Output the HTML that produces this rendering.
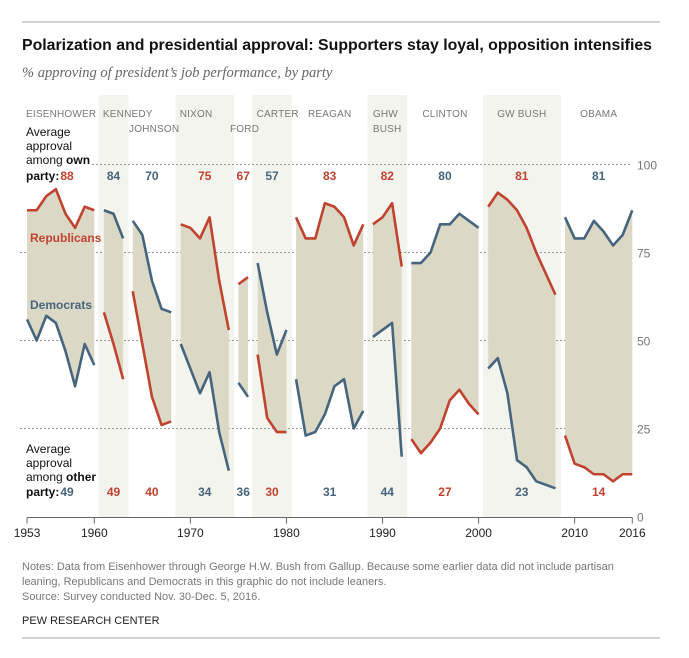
<!DOCTYPE html>
<html><head><meta charset="utf-8"><style>
body{margin:0;background:#fff;}
svg{display:block;font-family:"Liberation Sans",sans-serif;}
</style></head><body>
<svg id="chart" width="689" height="658" viewBox="0 0 689 658">
<line x1="22" y1="22" x2="660" y2="22" stroke="#aaa" stroke-width="1"/>
<text x="22" y="50" font-size="16" font-weight="bold" fill="#111" textLength="630" lengthAdjust="spacingAndGlyphs">Polarization and presidential approval: Supporters stay loyal, opposition intensifies</text>
<text x="22" y="77" font-size="14.5" font-style="italic" fill="#666" font-family="Liberation Serif, serif">% approving of president’s job performance, by party</text>
<g id="bands"></g>
<g id="grid"></g>
<g id="fills"></g>
<g id="lines"></g>
<g id="labels"></g>
<g id="axis"></g>
<text font-size="12" fill="#111"><tspan x="26" y="136">Average</tspan><tspan x="26" y="150">approval</tspan><tspan x="26" y="164">among <tspan font-weight="bold">own</tspan></tspan><tspan x="26" y="180" font-weight="bold">party:</tspan></text>
<text font-size="12" fill="#111"><tspan x="26" y="453">Average</tspan><tspan x="26" y="467">approval</tspan><tspan x="26" y="481">among <tspan font-weight="bold">other</tspan></tspan><tspan x="26" y="496" font-weight="bold">party:</tspan></text>
<text x="30" y="242" font-size="12" font-weight="bold" fill="#c0432f">Republicans</text>
<text x="30" y="309" font-size="12" font-weight="bold" fill="#46657d">Democrats</text>
<text font-size="11" fill="#777"><tspan x="22" y="570">Notes: Data from Eisenhower through George H.W. Bush from Gallup. Because some earlier data did not include partisan</tspan><tspan x="22" y="585">leaning, Republicans and Democrats in this graphic do not include leaners.</tspan><tspan x="22" y="600">Source: Survey conducted Nov. 30-Dec. 5, 2016.</tspan></text>
<text x="22" y="624" font-size="11" fill="#222">PEW RESEARCH CENTER</text>
<line x1="22" y1="638" x2="660" y2="638" stroke="#aaa" stroke-width="1"/>
</svg>
<script>
const presidents = ["EISENHOWER","KENNEDY","JOHNSON","NIXON","FORD","CARTER","REAGAN","GHW BUSH","CLINTON","GW BUSH","OBAMA"];
const parties = ["R","D","D","R","R","D","R","R","D","R","D"];
const startYears = [1953,1961,1964,1969,1975,1977,1981,1989,1993,2001,2009];
const repValues = [
 [87,87,91,93,86,82,88,87],
 [58,49,39],
 [64,49,34,26,27],
 [83,82,79,85,67,53],
 [66,68],
 [46,28,24,24],
 [85,79,79,89,88,85,77,83],
 [83,85,89,71],
 [22,18,21,25,33,36,32,29],
 [88,92,90,87,82,75,69,63],
 [23,15,14,12,12,10,12,12]
];
const demValues = [
 [56,50,57,55,47,37,49,43],
 [87,86,79],
 [84,80,67,59,58],
 [49,42,35,41,24,13],
 [38,34],
 [72,58,46,53],
 [39,23,24,29,37,39,25,30],
 [51,53,55,17],
 [72,72,75,83,83,86,84,82],
 [42,45,35,16,14,10,9,8],
 [85,79,79,84,81,77,80,87]
];
const ownAvg = [88,84,70,75,67,57,83,82,80,81,81];
const otherAvg = [49,49,40,34,36,30,31,44,27,23,14];
const yTicks = [0,25,50,75,100];
const xTicks = [1953,1960,1970,1980,1990,2000,2010,2016];
const shaded = [false,true,false,true,false,true,false,true,false,true,false];

const NS="http://www.w3.org/2000/svg";
const RED="#c0432f", BLUE="#46657d";
function x(yr){return 94.3+(yr-1960)*9.607;}
function y(v){return 516.5-v*3.52;}
function mk(tag,attrs,parent){const e=document.createElementNS(NS,tag);for(const k in attrs)e.setAttribute(k,attrs[k]);parent.appendChild(e);return e;}
const bands=document.getElementById('bands'),grid=document.getElementById('grid'),fills=document.getElementById('fills'),lines=document.getElementById('lines'),labels=document.getElementById('labels'),axis=document.getElementById('axis');

presidents.forEach((p,i)=>{
  const n=repValues[i].length, y0=startYears[i], y1=y0+n-1;
  const slug=p.toLowerCase().replace(/ /g,'-');
  if(shaded[i]){
    const b=mk('rect',{x:x(y0)-5.5,y:95,width:x(y1)-x(y0)+11,height:422.5,fill:'#f4f4ef'},bands);
    
    
  }
  let pts=repValues[i].map((v,j)=>x(y0+j)+','+y(v));
  let dpts=demValues[i].map((v,j)=>x(y0+j)+','+y(v));
  const poly=mk('polygon',{points:pts.concat(dpts.slice().reverse()).join(' '),fill:'#dbd8c6'},fills);
  
  
  const rl=mk('polyline',{points:pts.join(' '),fill:'none',stroke:RED,'stroke-width':2.6,'stroke-linejoin':'round'},lines);
  
  
  const dl=mk('polyline',{points:dpts.join(' '),fill:'none',stroke:BLUE,'stroke-width':2.6,'stroke-linejoin':'round'},lines);
  
  
  const cx=(x(y0)+x(y1))/2;
  const alt=(p==="JOHNSON"||p==="FORD");
  let lx=x(y0)-1, ly=alt?132:117;
  if(p==="JOHNSON") lx=129;
  if(p==="FORD") lx=230;
  const t=mk('text',{x:lx,y:ly,'font-size':10,fill:'#777','letter-spacing':'0.2'},labels);
  
  
  if(p==="GHW BUSH"){mk('tspan',{x:lx+1,y:117},t).textContent="GHW";mk('tspan',{x:lx+1,y:132},t).textContent="BUSH";}
  else if(p==="GW BUSH"||p==="CLINTON"||p==="REAGAN"||p==="OBAMA"){t.setAttribute('x',cx);t.setAttribute('text-anchor','middle');t.textContent=p;}
  else if(p==="EISENHOWER"){t.setAttribute('x',26);t.textContent=p;}
  else t.textContent=p;
  const ownCol=parties[i]==="R"?RED:BLUE, otherCol=parties[i]==="R"?BLUE:RED;
  const ax = i===0?67:cx;
  const o=mk('text',{x:ax,y:180,'font-size':12,'font-weight':'bold',fill:ownCol,'text-anchor':'middle'},labels);
  
  
  o.textContent=ownAvg[i];
  const ot=mk('text',{x:ax,y:496,'font-size':12,'font-weight':'bold',fill:otherCol,'text-anchor':'middle'},labels);
  
  
  ot.textContent=otherAvg[i];
});

yTicks.forEach(v=>{
  if(v>0){
    const g=mk('line',{x1:v===100?92:20,x2:632,y1:y(v),y2:y(v),stroke:'#999','stroke-width':1,'stroke-dasharray':'2,2'},grid);
    
    
  }
  const t=mk('text',{x:637,y:y(v)+5,'font-size':12,fill:'#777'},axis);
  
  
  t.textContent=v;
});
const al=mk('line',{x1:x(1953),x2:x(2016),y1:y(0)+1,y2:y(0)+1,stroke:'#666','stroke-width':1},axis);


xTicks.forEach(yr=>{
  const tk=mk('line',{x1:x(yr),x2:x(yr),y1:y(0)+1,y2:y(0)+7,stroke:'#666','stroke-width':1},axis);
  
  
  const t=mk('text',{x:x(yr),y:537,'font-size':12,fill:'#222','text-anchor':'middle'},axis);
  
  
  t.textContent=yr;
});
</script>
</body></html>
